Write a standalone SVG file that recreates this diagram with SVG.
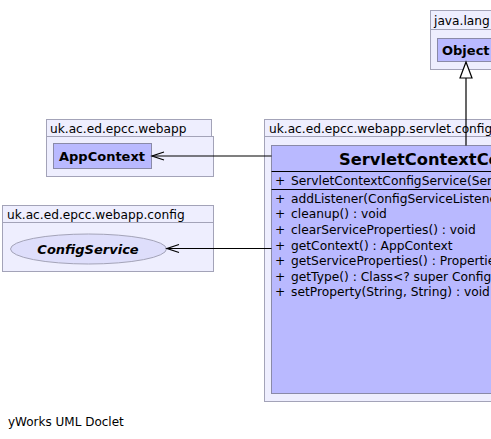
<svg xmlns="http://www.w3.org/2000/svg" width="491" height="439" viewBox="0 0 491 439">
<style>
.pkg{fill:#eeeefe;stroke:#a3a3b8;stroke-width:1}
.cls{fill:#b9b9ff;stroke:#8a8aa8;stroke-width:1}
.t{font-family:"DejaVu Sans",sans-serif;font-size:12.2px;fill:#000}
.m{font-family:"DejaVu Sans",sans-serif;font-size:12.25px;fill:#000}
.b{font-weight:bold;font-size:13px}
.edge{stroke:#000;stroke-width:1.2;fill:none}
.sep{stroke:#000;stroke-width:1}
</style>
<rect width="491" height="439" fill="#fff"/>
<g id="pkg-java-lang">
<rect class="pkg" x="430.5" y="29.5" width="70" height="40"/>
<rect class="pkg" x="430.5" y="10.5" width="70" height="19"/>
<text class="t" x="434" y="24.5">java.lang</text>
</g>
<g id="Object">
<rect class="cls" x="437.5" y="38.5" width="60" height="23"/>
<text class="t b" x="442" y="54.5">Object</text>
</g>
<g id="pkg-webapp">
<rect class="pkg" x="46.5" y="136.5" width="167" height="40"/>
<rect class="pkg" x="46.5" y="119.5" width="165" height="17"/>
<text class="t" x="50" y="132.5">uk.ac.ed.epcc.webapp</text>
</g>
<g id="AppContext">
<rect class="cls" x="53.5" y="143.5" width="98" height="25"/>
<text class="t b" x="59" y="161">AppContext</text>
</g>
<g id="pkg-config">
<rect class="pkg" x="2.5" y="222.5" width="211" height="49"/>
<rect class="pkg" x="2.5" y="205.5" width="211" height="17"/>
<text class="t" x="7" y="218.5">uk.ac.ed.epcc.webapp.config</text>
</g>
<g id="ConfigService">
<ellipse cx="88.5" cy="249" rx="78" ry="15" fill="#dedefb" stroke="#a3a3b8" stroke-width="1"/>
<text class="t b" x="88" y="253.5" text-anchor="middle" font-style="italic">ConfigService</text>
</g>
<g id="pkg-servlet-config">
<rect class="pkg" x="264.5" y="136.5" width="240" height="265"/>
<rect class="pkg" x="264.5" y="119.5" width="240" height="17"/>
<text class="t" x="269" y="132.5">uk.ac.ed.epcc.webapp.servlet.config</text>
</g>
<g id="ServletContextConfigService">
<rect class="cls" x="271.5" y="145.5" width="430" height="248"/>
<text class="t b" x="339" y="165" style="font-size:16.3px">ServletContextConfigService</text>
<line class="sep" x1="271.5" y1="171.5" x2="491" y2="171.5"/>
<text class="m" x="275" y="185">+<tspan x="291">ServletContextConfigService(ServletContext)</tspan></text>
<line class="sep" x1="271.5" y1="189.5" x2="491" y2="189.5"/>
<text class="m" x="275" y="202.5">+<tspan x="291">addListener(ConfigServiceListener) : void</tspan></text>
<text class="m" x="275" y="218.3">+<tspan x="291">cleanup() : void</tspan></text>
<text class="m" x="275" y="233.9">+<tspan x="291">clearServiceProperties() : void</tspan></text>
<text class="m" x="275" y="249.5">+<tspan x="291">getContext() : AppContext</tspan></text>
<text class="m" x="275" y="265.1">+<tspan x="291">getServiceProperties() : Properties</tspan></text>
<text class="m" x="275" y="280.7">+<tspan x="291">getType() : Class&lt;? super ConfigService&gt;</tspan></text>
<text class="m" x="275" y="296.3">+<tspan x="291">setProperty(String, String) : void</tspan></text>
</g>
<g id="connectors">
<path class="edge" d="M271.5,156 H152"/>
<path class="edge" d="M164,152 L152,156 L164,160"/>
<path class="edge" d="M271.5,248.5 H167"/>
<path class="edge" d="M179,244.5 L167,248.5 L179,252.5"/>
<path class="edge" d="M466,145.5 V78"/>
<path d="M466,62 L472,78 L460,78 Z" fill="#fff" stroke="#000" stroke-width="1.2"/>
</g>
<text class="t" x="8" y="426" style="font-size:12px">yWorks UML Doclet</text>
</svg>
